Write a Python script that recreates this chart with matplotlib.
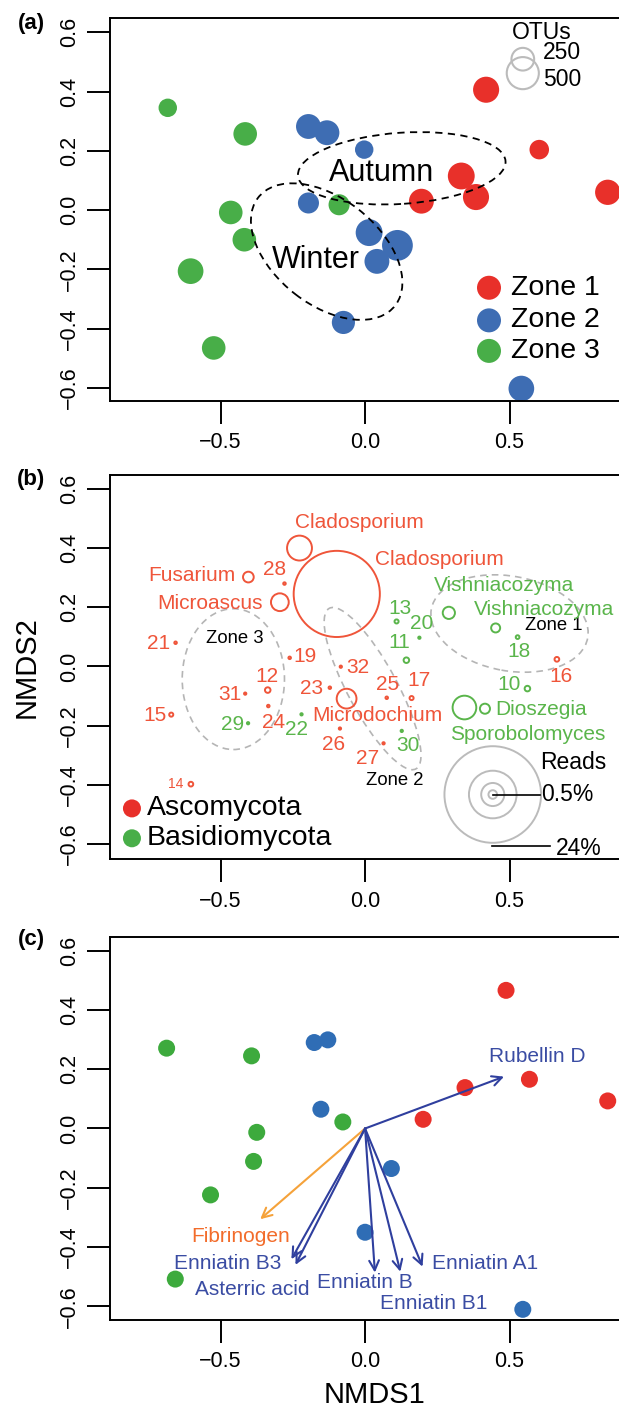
import numpy as np
import matplotlib.pyplot as plt
from matplotlib.patches import Ellipse

plt.rcParams['font.family'] = ['Liberation Sans', 'DejaVu Sans']

DPI = 100
W, H = 619, 1409

red = '#e8302a'
blue = '#3e6db3'
green = '#48ae48'
tred = '#ef553a'
tgreen = '#5ab54b'
navy = '#2f3f9e'
tnavy = '#3a4ca3'
orange = '#f5a23a'
torange = '#f26c2b'
grey = '#bbbbbb'

# ---------------- panel (a) data: samples, size = number of OTUs
z1_x = [0.419, 0.603, 0.333, 0.384, 0.195, 0.84]
z1_y = [0.406, 0.204, 0.115, 0.044, 0.030, 0.060]
z1_otu = [330, 185, 350, 330, 300, 310]

z2_x = [-0.196, -0.132, -0.003, -0.196, 0.014, 0.112, 0.041, -0.075, 0.541]
z2_y = [0.282, 0.261, 0.204, 0.024, -0.076, -0.119, -0.173, -0.379, -0.602]
z2_otu = [300, 300, 165, 215, 350, 460, 300, 260, 320]

z3_x = [-0.683, -0.415, -0.465, -0.418, -0.604, -0.524, -0.090]
z3_y = [0.345, 0.257, -0.008, -0.100, -0.206, -0.465, 0.018]
z3_otu = [165, 270, 270, 270, 320, 270, 215]

# season ellipses: centre x, centre y, width, height, angle
season_names = ['Autumn', 'Winter']
season_ell = [(0.127, 0.141, 0.72, 0.24, 3.85), (-0.133, -0.140, 0.598, 0.36, -37)]
season_lab = [(0.057, 0.125), (-0.170, -0.170)]

otu_legend = [250, 500]

# ---------------- panel (b) data: taxa, size = % reads
tax_x = [-0.227, -0.098, -0.404, -0.295, -0.064, -0.279, -0.656, -0.261, -0.084, -0.337,
         -0.415, -0.335, -0.122, 0.075, 0.161, -0.671, -0.087, 0.064, 0.664, -0.603,
         0.109, 0.188, 0.143, 0.290, 0.452, 0.528, 0.562, 0.344, 0.415, -0.405, -0.220, 0.127]
tax_y = [0.400, 0.245, 0.302, 0.217, -0.109, 0.280, 0.080, 0.029, -0.001, -0.080,
         -0.092, -0.134, -0.072, -0.106, -0.107, -0.163, -0.210, -0.260, 0.024, -0.398,
         0.152, 0.097, 0.021, 0.181, 0.130, 0.099, -0.075, -0.139, -0.143, -0.192, -0.162, -0.218]
tax_reads = [1.8, 19.4, 0.40, 0.97, 1.18, 0.05, 0.05, 0.05, 0.045, 0.14,
             0.045, 0.05, 0.05, 0.05, 0.09, 0.09, 0.045, 0.045, 0.11, 0.11,
             0.09, 0.045, 0.14, 0.5, 0.3, 0.08, 0.14, 1.64, 0.36, 0.045, 0.045, 0.045]
tax_phylum = ['A'] * 20 + ['B'] * 12
tax_label = ['Cladosporium', 'Cladosporium', 'Fusarium', 'Microascus', 'Microdochium',
             '28', '21', '19', '32', '12', '31', '24', '23', '25', '17', '15', '26', '27', '16', '14',
             '13', '20', '11', 'Vishniacozyma', 'Vishniacozyma', '18', '10', 'Sporobolomyces',
             'Dioszegia', '29', '22', '30']
lab_x = [-0.020, 0.256, -0.599, -0.536, 0.041, -0.313, -0.714, -0.207, -0.024, -0.340,
         -0.469, -0.316, -0.184, 0.079, 0.188, -0.728, -0.109, 0.007, 0.678, -0.657,
         0.122, 0.197, 0.120, 0.480, 0.619, 0.533, 0.497, 0.562, 0.610, -0.460, -0.238, 0.150]
lab_y = [0.487, 0.363, 0.307, 0.212, -0.167, 0.329, 0.078, 0.035, -0.004, -0.033,
         -0.094, -0.188, -0.075, -0.061, -0.046, -0.167, -0.263, -0.311, -0.033, -0.398,
         0.197, 0.145, 0.080, 0.273, 0.192, 0.052, -0.061, -0.229, -0.145, -0.196, -0.212, -0.269]

zone_names = ['Zone 1', 'Zone 2', 'Zone 3']
zone_ell = [(0.50, 0.145, 0.55, 0.32, -10), (0.026, -0.075, 0.62, 0.17, -61),
            (-0.456, -0.043, 0.354, 0.476, 0)]
zone_lab = [(0.653, 0.138), (0.102, -0.387), (-0.452, 0.093)]

reads_legend = [24, 6, 1.5, 0.25]

# ---------------- panel (c) data
c1_x = [0.488, 0.569, 0.346, 0.201, 0.840]
c1_y = [0.466, 0.166, 0.138, 0.031, 0.093]
c2_x = [-0.176, -0.129, -0.153, 0.091, 0.000, 0.546]
c2_y = [0.290, 0.299, 0.065, -0.135, -0.350, -0.610]
c3_x = [-0.687, -0.393, -0.077, -0.375, -0.386, -0.535, -0.657]
c3_y = [0.271, 0.245, 0.022, -0.013, -0.111, -0.224, -0.508]

vec_names = ['Rubellin D', 'Fibrinogen', 'Enniatin B3', 'Asterric acid',
             'Enniatin B', 'Enniatin B1', 'Enniatin A1']
vec_x = [0.481, -0.363, -0.255, -0.241, 0.034, 0.122, 0.199]
vec_y = [0.175, -0.306, -0.441, -0.460, -0.486, -0.483, -0.466]
vec_lx = [0.596, -0.431, -0.477, -0.389, 0.000, 0.237, 0.417]
vec_ly = [0.243, -0.364, -0.457, -0.544, -0.520, -0.592, -0.457]


def otu_size(v):
    d = 22.7 * np.sqrt(np.asarray(v) / 250.0)
    return (d * 72.0 / DPI) ** 2


def reads_d(v):
    return 98.0 * np.sqrt(np.asarray(v) / 24.0)


fig = plt.figure(figsize=(W / DPI, H / DPI), dpi=DPI)
left = 110 / W
width = 529.5 / W
tops = [17.7, 475, 936.7]
bots = [401, 859.3, 1320]
ylims = [(-0.644, 0.649), (-0.652, 0.647), (-0.646, 0.647)]
axes = []
for t, b, yl in zip(tops, bots, ylims):
    ax = fig.add_axes([left, 1 - b / H, width, (b - t) / H])
    ax.set_xlim(-0.883, 0.95)
    ax.set_ylim(*yl)
    ax.set_xticks([-0.5, 0.0, 0.5], ['\u22120.5', '0.0', '0.5'])
    ax.set_yticks([-0.6, -0.4, -0.2, 0.0, 0.2, 0.4, 0.6],
                  ['\u22120.6', '\u22120.4', '\u22120.2', '0.0', '0.2', '0.4', '0.6'],
                  rotation=90, va='center')
    ax.tick_params(length=16.5, width=1.4, labelsize=15.5, pad=5)
    ax.tick_params(axis='x', pad=6)
    for s in ax.spines.values():
        s.set_linewidth(1.4)
    axes.append(ax)

for ax, lab, yc in zip(axes, ['(a)', '(b)', '(c)'], [24, 480, 940]):
    fig.text(31 / W, 1 - yc / H, lab, fontsize=16, fontweight='bold',
             ha='center', va='center')

# ---- (a)
ax = axes[0]
for (cx, cy, w, h, ang) in season_ell:
    ax.add_patch(Ellipse((cx, cy), w, h, angle=ang, fill=False, ec='black',
                         lw=1.3, ls=(0, (4, 3)), zorder=3))
for xs, ys, ot, col in [(z1_x, z1_y, z1_otu, red), (z2_x, z2_y, z2_otu, blue),
                        (z3_x, z3_y, z3_otu, green)]:
    ax.scatter(xs, ys, s=otu_size(ot), color=col, edgecolors='none', zorder=2)
for name, (lx, ly) in zip(season_names, season_lab):
    ax.text(lx, ly, name, fontsize=22, ha='center', va='center', zorder=4)
# OTU size legend
ax.text(0.612, 0.598, 'OTUs', fontsize=16.5, ha='center', va='center')
for v, cy, ty in zip(otu_legend, [0.509, 0.462], [0.530, 0.439]):
    ax.scatter([0.546], [cy], s=otu_size(v), facecolors='none', edgecolors=grey, lw=1.5)
    ax.text(0.616, ty, str(v), fontsize=16.5, ha='left', va='center')
for name, col, ly in zip(zone_names, [red, blue, green], [-0.262, -0.372, -0.475]):
    ax.scatter([0.429], [ly], s=(24 * 0.72) ** 2, color=col, edgecolors='none')
    ax.text(0.505, ly, name, fontsize=20.5, ha='left', va='center')

# ---- (b)
ax = axes[1]
for (cx, cy, w, h, ang) in zone_ell:
    ax.add_patch(Ellipse((cx, cy), w, h, angle=ang, fill=False, ec='#b5b5b5',
                         lw=1.2, ls=(0, (4, 3)), zorder=1))
for name, (lx, ly) in zip(zone_names, zone_lab):
    ax.text(lx, ly, name, fontsize=13.3, ha='center', va='center')
d = reads_d(tax_reads)
lw = 1.4
sizes = (np.maximum(d - lw * DPI / 72, 0.5) * 72 / DPI) ** 2
for i in range(len(tax_x)):
    tc = tred if tax_phylum[i] == 'A' else tgreen
    ax.scatter([tax_x[i]], [tax_y[i]], s=sizes[i], facecolors='none',
               edgecolors=tc, lw=lw, zorder=3)
    fs = 10 if tax_label[i] == '14' else 15
    ax.text(lab_x[i], lab_y[i], tax_label[i], color=tc, fontsize=fs,
            ha='center', va='center', zorder=4)
# reads legend
rd = reads_d(reads_legend)
ax.scatter([0.442] * len(rd), [-0.433] * len(rd),
           s=((rd - 1.4) * 72 / DPI) ** 2, facecolors='none', edgecolors=grey, lw=1.4)
ax.plot([0.442, 0.605], [-0.433, -0.433], color='black', lw=1.2)
ax.plot([0.438, 0.640], [-0.608, -0.608], color='black', lw=1.2)
ax.text(0.721, -0.325, 'Reads', fontsize=16.5, ha='center', va='center')
ax.text(0.610, -0.433, '0.5%', fontsize=16.5, ha='left', va='center')
ax.text(0.660, -0.615, '24%', fontsize=16.5, ha='left', va='center')
for name, col, ly in zip(['Ascomycota', 'Basidiomycota'], [red, green], [-0.480, -0.581]):
    ax.scatter([-0.807], [ly], s=(18 * 0.72) ** 2, color=col, edgecolors='none')
    ax.text(-0.755, ly, name, fontsize=20.5, ha='left', va='center')
ax.set_ylabel('NMDS2', fontsize=21, labelpad=13)

# ---- (c)
ax = axes[2]
ps = (17 * 0.72) ** 2
ax.scatter(c1_x, c1_y, s=ps, color=red, edgecolors='none', zorder=2)
ax.scatter(c2_x, c2_y, s=ps, color='#2f6db5', edgecolors='none', zorder=2)
ax.scatter(c3_x, c3_y, s=ps, color='#3daa3d', edgecolors='none', zorder=2)
for name, vx, vy, lx, ly in zip(vec_names, vec_x, vec_y, vec_lx, vec_ly):
    ac = orange if name == 'Fibrinogen' else navy
    tc = torange if name == 'Fibrinogen' else tnavy
    ax.annotate('', xy=(vx, vy), xytext=(0, 0),
                arrowprops=dict(arrowstyle='->,head_length=0.7,head_width=0.35',
                                color=ac, lw=1.5, shrinkA=0, shrinkB=0,
                                mutation_scale=10), zorder=3)
    ax.text(lx, ly, name, color=tc, fontsize=15, ha='center', va='center', zorder=4)
ax.set_xlabel('NMDS1', fontsize=21, labelpad=6)

fig.savefig('out.png', dpi=DPI)
